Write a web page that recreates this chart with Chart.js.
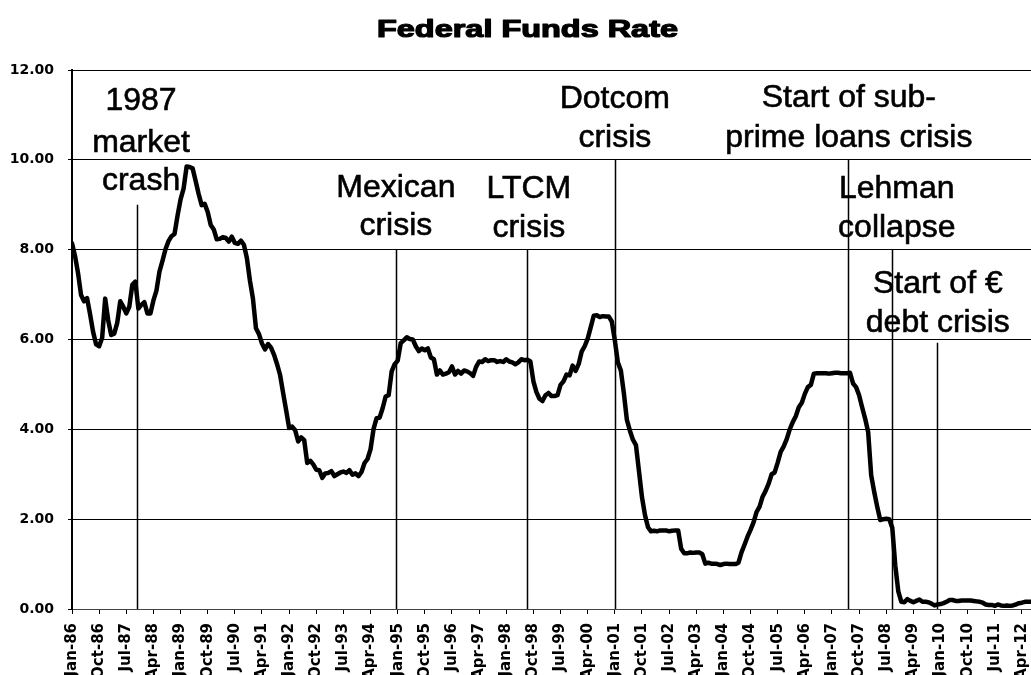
<!DOCTYPE html>
<html>
<head>
<meta charset="utf-8">
<title>Federal Funds Rate</title>
<script src="https://cdn.jsdelivr.net/npm/chart.js@4.4.1/dist/chart.umd.min.js"></script>
<style>
  html, body { margin: 0; padding: 0; background: #fff; }
  #chart { display: block; }
</style>
</head>
<body>
<canvas id="chart" width="1031" height="675"></canvas>
<script>
const chartTitle = 'Federal Funds Rate';

// x axis: one point per month starting Jan-86, a tick label every 9 months
const monthsPerTick = 9;
const xTickLabels = [
    'Jan-86', 'Oct-86', 'Jul-87', 'Apr-88', 'Jan-89', 'Oct-89', 'Jul-90', 'Apr-91', 'Jan-92',
    'Oct-92', 'Jul-93', 'Apr-94', 'Jan-95', 'Oct-95', 'Jul-96', 'Apr-97', 'Jan-98', 'Oct-98',
    'Jul-99', 'Apr-00', 'Jan-01', 'Oct-01', 'Jul-02', 'Apr-03', 'Jan-04', 'Oct-04', 'Jul-05',
    'Apr-06', 'Jan-07', 'Oct-07', 'Jul-08', 'Apr-09', 'Jan-10', 'Oct-10', 'Jul-11', 'Apr-12'
];
const yTickValues = [0, 2, 4, 6, 8, 10, 12];

// monthly rate, %, Jan-86 .. Jul-12 (one row per year)
const fedFundsRate = [
    8.14, 7.86, 7.48, 6.99, 6.85, 6.92, 6.56, 6.17, 5.89, 5.85, 6.04, 6.91,
    6.43, 6.10, 6.13, 6.37, 6.85, 6.73, 6.58, 6.73, 7.22, 7.29, 6.69, 6.77,
    6.83, 6.58, 6.58, 6.87, 7.09, 7.51, 7.75, 8.01, 8.19, 8.30, 8.35, 8.76,
    9.12, 9.36, 9.85, 9.84, 9.81, 9.53, 9.24, 8.99, 9.02, 8.84, 8.55, 8.45,
    8.23, 8.24, 8.28, 8.26, 8.18, 8.29, 8.15, 8.13, 8.20, 8.11, 7.81, 7.31,
    6.91, 6.25, 6.12, 5.91, 5.78, 5.90, 5.82, 5.66, 5.45, 5.21, 4.81, 4.43,
    4.03, 4.06, 3.98, 3.73, 3.82, 3.76, 3.25, 3.30, 3.22, 3.10, 3.09, 2.92,
    3.02, 3.03, 3.07, 2.96, 3.00, 3.04, 3.06, 3.03, 3.09, 2.99, 3.02, 2.96,
    3.05, 3.25, 3.34, 3.56, 4.01, 4.25, 4.26, 4.47, 4.73, 4.76, 5.29, 5.45,
    5.53, 5.92, 5.98, 6.05, 6.01, 6.00, 5.85, 5.74, 5.80, 5.76, 5.80, 5.60,
    5.56, 5.22, 5.31, 5.22, 5.24, 5.27, 5.40, 5.22, 5.30, 5.24, 5.31, 5.29,
    5.25, 5.19, 5.39, 5.51, 5.50, 5.56, 5.52, 5.54, 5.54, 5.50, 5.52, 5.50,
    5.56, 5.51, 5.49, 5.45, 5.49, 5.56, 5.54, 5.55, 5.51, 5.07, 4.83, 4.68,
    4.63, 4.76, 4.81, 4.74, 4.74, 4.76, 4.99, 5.07, 5.22, 5.20, 5.42, 5.30,
    5.45, 5.73, 5.85, 6.02, 6.27, 6.53, 6.54, 6.50, 6.52, 6.51, 6.51, 6.40,
    5.98, 5.49, 5.31, 4.80, 4.21, 3.97, 3.77, 3.65, 3.07, 2.49, 2.09, 1.82,
    1.73, 1.74, 1.73, 1.75, 1.75, 1.75, 1.73, 1.74, 1.75, 1.75, 1.34, 1.24,
    1.24, 1.26, 1.25, 1.26, 1.26, 1.22, 1.01, 1.03, 1.01, 1.01, 1.00, 0.98,
    1.00, 1.01, 1.00, 1.00, 1.00, 1.03, 1.26, 1.43, 1.61, 1.76, 1.93, 2.16,
    2.28, 2.50, 2.63, 2.79, 3.00, 3.04, 3.26, 3.50, 3.62, 3.78, 4.00, 4.16,
    4.29, 4.49, 4.59, 4.79, 4.94, 4.99, 5.24, 5.25, 5.25, 5.25, 5.25, 5.24,
    5.25, 5.26, 5.26, 5.25, 5.25, 5.25, 5.26, 5.02, 4.94, 4.76, 4.49, 4.24,
    3.94, 2.98, 2.61, 2.28, 1.98, 2.00, 2.01, 2.00, 1.81, 0.97, 0.39, 0.16,
    0.15, 0.22, 0.18, 0.15, 0.18, 0.21, 0.16, 0.16, 0.15, 0.12, 0.08, 0.10,
    0.11, 0.13, 0.16, 0.20, 0.20, 0.18, 0.18, 0.19, 0.19, 0.19, 0.19, 0.18,
    0.17, 0.16, 0.14, 0.10, 0.09, 0.09, 0.07, 0.10, 0.08, 0.07, 0.08, 0.07,
    0.08, 0.10, 0.13, 0.14, 0.16, 0.16, 0.16
];

// crisis markers: month index (0 = Jan-86) and the text written above them
const eventMonths = [21.5, 107.6, 151, 180, 257.3, 271.9, 286.8];
const eventNames = [
    ['1987', 'market', 'crash'],
    ['Mexican', 'crisis'],
    ['LTCM', 'crisis'],
    ['Dotcom', 'crisis'],
    ['Start of sub-', 'prime loans crisis'],
    ['Lehman', 'collapse'],
    ['Start of \u20ac', 'debt crisis']
];

// where the marker lines start and where their text sits (axis units)
const eventLineTop = [9, 8, 8, 10, 10, 8, 5.93];
const eventTextMonth = [22.9, 107.4, 151.5, 180, 257.6, 273.5, 287.1];
const eventTextRows = [
    [11.11, 10.17, 9.33],
    [9.17, 8.33],
    [9.15, 8.28],
    [11.15, 10.29],
    [11.18, 10.29],
    [9.15, 8.28],
    [7.03, 6.17]
];

const tickFont = '"DejaVu Sans", "Liberation Sans", Arial, sans-serif';

const eventPlugin = {
    id: 'events',
    beforeDatasetsDraw(chart) {
        const { ctx, scales: { x, y } } = chart;
        ctx.save();
        ctx.strokeStyle = '#000';
        ctx.lineWidth = 1.5;
        eventMonths.forEach((m, i) => {
            const px = Math.round(x.getPixelForValue(m)) + 0.5;
            ctx.beginPath();
            ctx.moveTo(px, y.getPixelForValue(eventLineTop[i]));
            ctx.lineTo(px, y.getPixelForValue(0));
            ctx.stroke();
        });
        ctx.restore();
    },
    afterDraw(chart) {
        const { ctx, scales: { x, y } } = chart;
        ctx.save();
        ctx.fillStyle = '#000';
        ctx.strokeStyle = '#000';
        ctx.lineWidth = 0.6;
        ctx.font = '32px "Liberation Sans", Arial, sans-serif';
        ctx.textAlign = 'center';
        ctx.textBaseline = 'alphabetic';
        eventNames.forEach((lines, i) => {
            const px = x.getPixelForValue(eventTextMonth[i]);
            lines.forEach((line, j) => {
                const py = y.getPixelForValue(eventTextRows[i][j]);
                ctx.fillText(line, px, py);
                ctx.strokeText(line, px, py);
            });
        });
        ctx.restore();
    }
};

// the title in the original is a wide heavy face, so stretch it sideways
const titlePlugin = {
    id: 'wideTitle',
    afterDraw(chart) {
        const { ctx } = chart;
        ctx.save();
        ctx.fillStyle = '#000';
        ctx.strokeStyle = '#000';
        ctx.lineWidth = 1.2;
        ctx.lineJoin = 'round';
        ctx.font = 'bold 23px "Liberation Sans", Arial, sans-serif';
        ctx.textAlign = 'center';
        ctx.textBaseline = 'alphabetic';
        ctx.translate(527.5, 37);
        ctx.scale(1.41, 1);
        ctx.fillText(chartTitle, 0, 0);
        ctx.strokeText(chartTitle, 0, 0);
        ctx.restore();
    }
};

const points = fedFundsRate.map((v, i) => ({ x: i, y: v }));

new Chart(document.getElementById('chart'), {
    type: 'line',
    data: {
        datasets: [{
            label: chartTitle,
            data: points,
            borderColor: '#000',
            borderWidth: 4.5,
            borderJoinStyle: 'round',
            borderCapStyle: 'round',
            pointRadius: 0,
            tension: 0,
            fill: false
        }]
    },
    options: {
        responsive: false,
        animation: false,
        devicePixelRatio: 1,
        layout: { padding: { top: 70, right: 0, bottom: 0, left: 0 } },
        plugins: {
            legend: { display: false },
            title: { display: false },
            tooltip: { enabled: false }
        },
        scales: {
            x: {
                type: 'linear',
                min: 0,
                max: fedFundsRate.length - 1,
                afterBuildTicks: s => {
                    s.ticks = xTickLabels.map((_, i) => ({ value: i * monthsPerTick }));
                },
                afterFit: s => {
                    s.height = 66;
                    s.paddingLeft = 0;
                    s.paddingRight = 0;
                },
                ticks: {
                    autoSkip: false,
                    minRotation: 90,
                    maxRotation: 90,
                    padding: 9,
                    color: '#000',
                    font: { family: tickFont, size: 15, weight: 'bold' },
                    callback: v => xTickLabels[Math.round(v / monthsPerTick)]
                },
                grid: { drawOnChartArea: false, drawTicks: true, tickLength: 5, color: '#000' },
                border: { display: true, color: '#444', width: 1 }
            },
            y: {
                min: 0,
                max: 12,
                afterBuildTicks: s => {
                    s.ticks = yTickValues.map(v => ({ value: v }));
                },
                afterFit: s => { s.width = 72; },
                ticks: {
                    padding: 14,
                    color: '#000',
                    font: { family: tickFont, size: 14, weight: 'bold' },
                    callback: v => Number(v).toFixed(2)
                },
                grid: { color: '#000', lineWidth: 1, tickLength: 4 },
                border: { color: '#000', width: 2 }
            }
        }
    },
    plugins: [eventPlugin, titlePlugin]
});
</script>
</body>
</html>
